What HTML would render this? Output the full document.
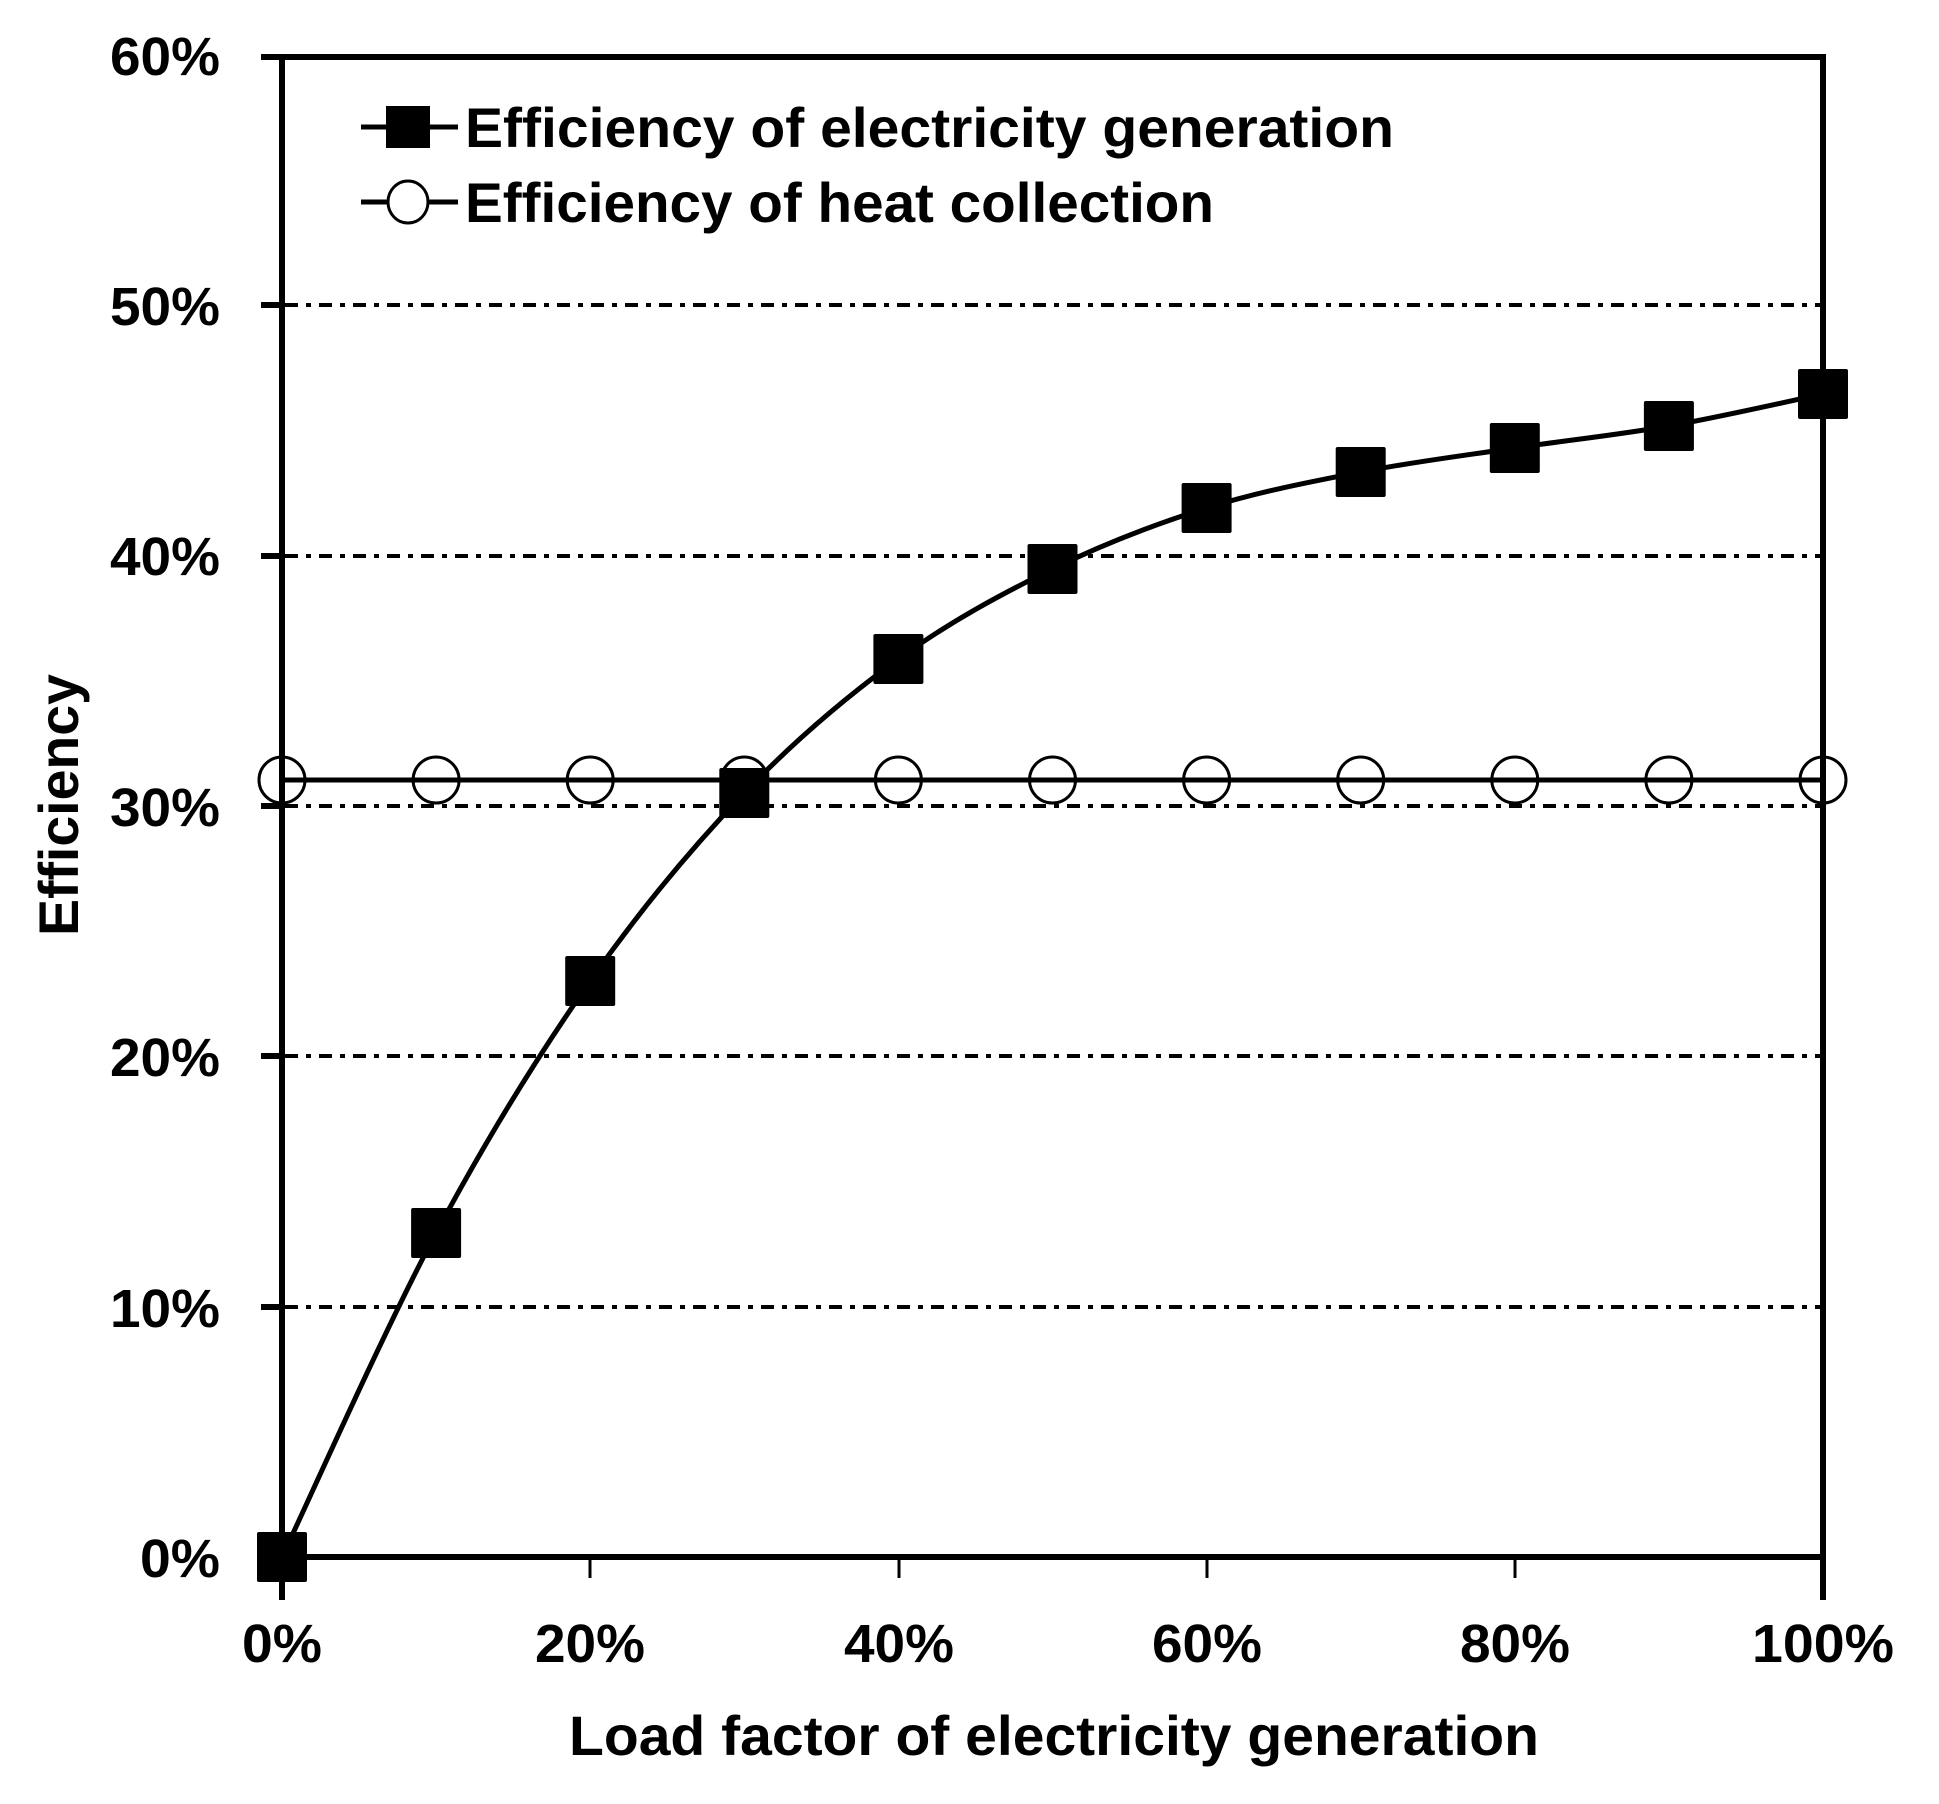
<!DOCTYPE html>
<html><head><meta charset="utf-8"><style>
html,body{margin:0;padding:0;background:#fff;}
svg{display:block;}
text{font-family:"Liberation Sans",sans-serif;font-weight:bold;fill:#000;}
</style></head><body>
<svg id="s" width="1939" height="1804" viewBox="0 0 1939 1804" xmlns="http://www.w3.org/2000/svg">
<g stroke="#000" stroke-width="4" stroke-dasharray="13 8 5 8" fill="none">
<line x1="285" y1="1307" x2="1821" y2="1307"/>
<line x1="285" y1="1056" x2="1821" y2="1056"/>
<line x1="285" y1="806" x2="1821" y2="806"/>
<line x1="285" y1="556" x2="1821" y2="556"/>
<line x1="285" y1="305" x2="1821" y2="305"/>
</g>
<g stroke="#000" stroke-width="6" fill="none">
<line x1="261" y1="57" x2="1826" y2="57"/>
<line x1="282" y1="57" x2="282" y2="1600"/>
<line x1="1823" y1="57" x2="1823" y2="1600"/>
<line x1="282" y1="1557" x2="1826" y2="1557"/>
<line x1="261" y1="1557" x2="282" y2="1557"/>
<line x1="261" y1="1307" x2="282" y2="1307"/>
<line x1="261" y1="1056" x2="282" y2="1056"/>
<line x1="261" y1="806" x2="282" y2="806"/>
<line x1="261" y1="556" x2="282" y2="556"/>
<line x1="261" y1="305" x2="282" y2="305"/>
</g>
<g stroke="#000" stroke-width="3" fill="none">
<line x1="590" y1="1557" x2="590" y2="1578"/>
<line x1="899" y1="1557" x2="899" y2="1578"/>
<line x1="1207" y1="1557" x2="1207" y2="1578"/>
<line x1="1515" y1="1557" x2="1515" y2="1578"/>
<line x1="1823" y1="1557" x2="1823" y2="1578"/>
</g>
<g id="series"></g>
<g font-size="54" text-anchor="end">
<text x="220" y="75" textLength="110" lengthAdjust="spacingAndGlyphs">60%</text>
<text x="220" y="325" textLength="110" lengthAdjust="spacingAndGlyphs">50%</text>
<text x="220" y="575" textLength="110" lengthAdjust="spacingAndGlyphs">40%</text>
<text x="220" y="826" textLength="110" lengthAdjust="spacingAndGlyphs">30%</text>
<text x="220" y="1076" textLength="110" lengthAdjust="spacingAndGlyphs">20%</text>
<text x="220" y="1327" textLength="110" lengthAdjust="spacingAndGlyphs">10%</text>
<text x="220" y="1577" textLength="80" lengthAdjust="spacingAndGlyphs">0%</text>
</g>
<g font-size="54" text-anchor="middle">
<text x="282" y="1662" textLength="80" lengthAdjust="spacingAndGlyphs">0%</text>
<text x="590" y="1662" textLength="110" lengthAdjust="spacingAndGlyphs">20%</text>
<text x="899" y="1662" textLength="110" lengthAdjust="spacingAndGlyphs">40%</text>
<text x="1207" y="1662" textLength="110" lengthAdjust="spacingAndGlyphs">60%</text>
<text x="1515" y="1662" textLength="110" lengthAdjust="spacingAndGlyphs">80%</text>
<text x="1823" y="1662" textLength="142" lengthAdjust="spacingAndGlyphs">100%</text>
</g>
<text x="1054" y="1755" font-size="56" text-anchor="middle" textLength="970" lengthAdjust="spacingAndGlyphs">Load factor of electricity generation</text>
<text transform="translate(78,805) rotate(-90)" font-size="56" text-anchor="middle" textLength="262" lengthAdjust="spacingAndGlyphs">Efficiency</text>
<g>
<line x1="361" y1="127" x2="458" y2="127" stroke="#000" stroke-width="5"/>
<rect x="386" y="106" width="44" height="42" fill="#000"/>
<line x1="361" y1="202" x2="458" y2="202" stroke="#000" stroke-width="5"/>
<ellipse cx="408" cy="202" rx="20" ry="21" fill="#fff" stroke="#000" stroke-width="3"/>
<text x="465" y="147" font-size="56" textLength="929" lengthAdjust="spacingAndGlyphs">Efficiency of electricity generation</text>
<text x="465" y="222" font-size="56" textLength="749" lengthAdjust="spacingAndGlyphs">Efficiency of heat collection</text>
</g>
</svg>
<script>
(function(){
var xs=[],i;for(i=0;i<=10;i++)xs.push(282+i*154.1);
var ye=[1557,1233,981,793,659,569,508,472,448,426,394];
var g=document.getElementById('series'),ns='http://www.w3.org/2000/svg';
function el(t,a){var e=document.createElementNS(ns,t);for(var k in a)e.setAttribute(k,a[k]);g.appendChild(e);return e;}
var d='M'+xs[0]+' '+ye[0];
for(i=0;i<10;i++){
 var p0=[xs[Math.max(i-1,0)],ye[Math.max(i-1,0)]],p1=[xs[i],ye[i]],p2=[xs[i+1],ye[i+1]],p3=[xs[Math.min(i+2,10)],ye[Math.min(i+2,10)]];
 var t=6;
 d+=' C'+(p1[0]+(p2[0]-p0[0])/t)+' '+(p1[1]+(p2[1]-p0[1])/t)+' '+(p2[0]-(p3[0]-p1[0])/t)+' '+(p2[1]-(p3[1]-p1[1])/t)+' '+p2[0]+' '+p2[1];
}
el('line',{x1:282,y1:780,x2:1823,y2:780,stroke:'#000','stroke-width':5});
for(i=0;i<=10;i++)el('ellipse',{cx:xs[i],cy:780,rx:23,ry:23,fill:'none',stroke:'#000','stroke-width':3});
el('path',{d:d,fill:'none',stroke:'#000','stroke-width':5});
for(i=0;i<=10;i++)el('rect',{x:xs[i]-25,y:ye[i]-25,width:50,height:50,rx:2,fill:'#000'});
})();
</script>
</body></html>
